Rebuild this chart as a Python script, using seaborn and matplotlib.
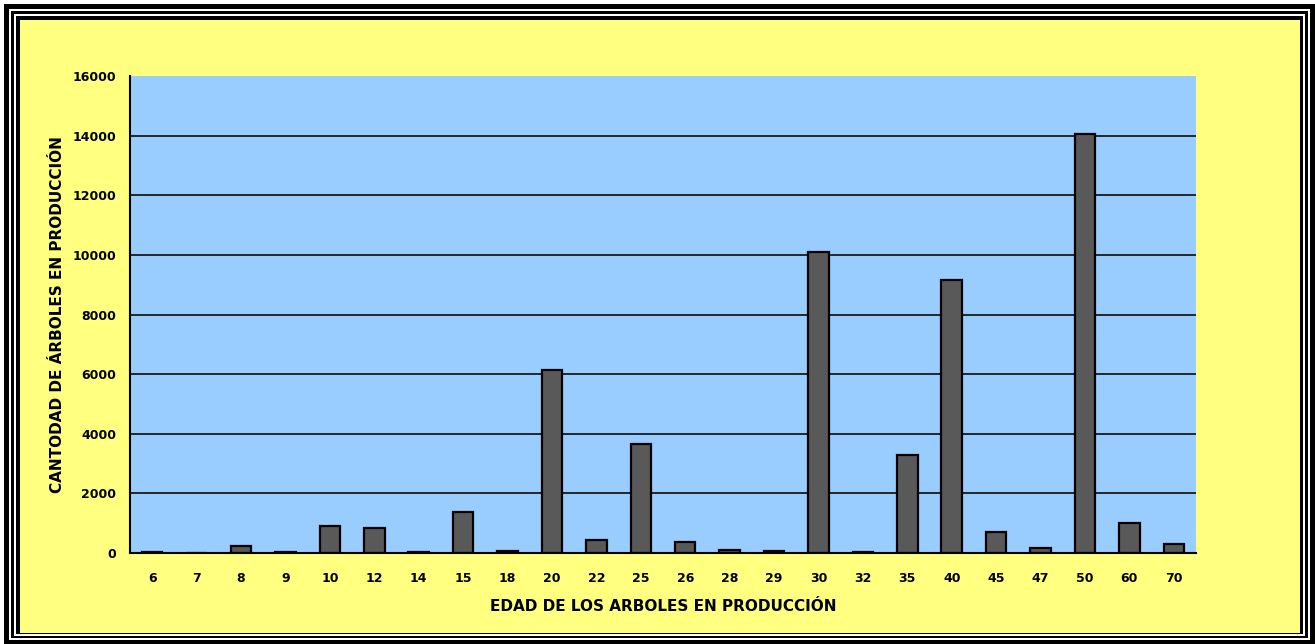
import matplotlib
matplotlib.use("Agg")
import matplotlib.pyplot as plt
import seaborn as sns
import pandas as pd
from matplotlib.patches import Rectangle

edades = ["6", "7", "8", "9", "10", "12", "14", "15", "18", "20", "22", "25",
          "26", "28", "29", "30", "32", "35", "40", "45", "47", "50", "60", "70"]
cantidad = [40, 15, 230, 40, 900, 840, 40, 1370, 70, 6130, 450, 3650,
            360, 100, 80, 10090, 35, 3290, 9150, 700, 170, 14070, 1000, 300]
y_ticks = [0, 2000, 4000, 6000, 8000, 10000, 12000, 14000, 16000]

df = pd.DataFrame({"edad": edades, "cantidad": cantidad})

sns.set_style("white")
plt.rcParams['font.family'] = ['DejaVu Sans']
plt.rcParams['text.color'] = 'black'
plt.rcParams['axes.labelcolor'] = 'black'
plt.rcParams['xtick.color'] = 'black'
plt.rcParams['ytick.color'] = 'black'

W, H = 1315, 644
fig = plt.figure(figsize=(W / 100, H / 100), dpi=100)
fig.patch.set_facecolor("white")

def frac_rect(x0, y0, x1, y1, color):
    r = Rectangle((x0 / W, 1 - y1 / H), (x1 - x0) / W, (y1 - y0) / H,
                  transform=fig.transFigure, facecolor=color, edgecolor="none",
                  zorder=-10)
    fig.patches.append(r)

frac_rect(4, 4, 1315, 644, "black")
frac_rect(9, 9, 1310, 640, "white")
frac_rect(11, 11, 1308, 638, "black")
frac_rect(14, 14, 1305, 636, "white")
frac_rect(16, 16, 1303, 634, "black")
frac_rect(20, 20, 1300, 633, "#FFFF80")

left, right, top, bottom = 130, 1196, 76, 553
ax = fig.add_axes([left / W, 1 - bottom / H, (right - left) / W, (bottom - top) / H])
ax.set_facecolor("#99CCFF")

sns.barplot(data=df, x="edad", y="cantidad", order=edades, color="#595959",
            edgecolor="black", linewidth=1.6, width=0.46, saturation=1, ax=ax)

ax.set_ylim(0, 16000)
ax.set_xlim(-0.5, len(edades) - 0.5)
ax.set_yticks(y_ticks)
ax.set_yticklabels([str(v) for v in y_ticks], fontweight="bold")
for v in y_ticks[1:-1]:
    ax.axhline(v, color="#1a1a1a", linewidth=1.3, zorder=0.5)
ax.set_axisbelow(True)

ax.set_xticks([i - 0.5 for i in range(len(edades) + 1)], minor=True)
ax.set_xticks(range(len(edades)))
ax.set_xticklabels(edades, fontweight="bold")
ax.tick_params(axis="x", which="major", length=0, pad=14, labelsize=9)
ax.tick_params(axis="x", which="minor", length=5, width=1.3, color="black", direction="out")
ax.tick_params(axis="y", length=5, width=1.3, color="black", direction="out", pad=5, labelsize=9)

for s in ["top", "right"]:
    ax.spines[s].set_visible(False)
for s in ["left", "bottom"]:
    ax.spines[s].set_color("black")
    ax.spines[s].set_linewidth(1.5)

ax.set_xlabel("EDAD DE LOS ARBOLES EN PRODUCCIÓN", fontsize=11, fontweight="bold", labelpad=10)
ax.set_ylabel("CANTODAD DE ÁRBOLES EN PRODUCCIÓN", fontsize=11, fontweight="bold", labelpad=5)

fig.savefig("out.png", dpi=100, facecolor=fig.get_facecolor())
